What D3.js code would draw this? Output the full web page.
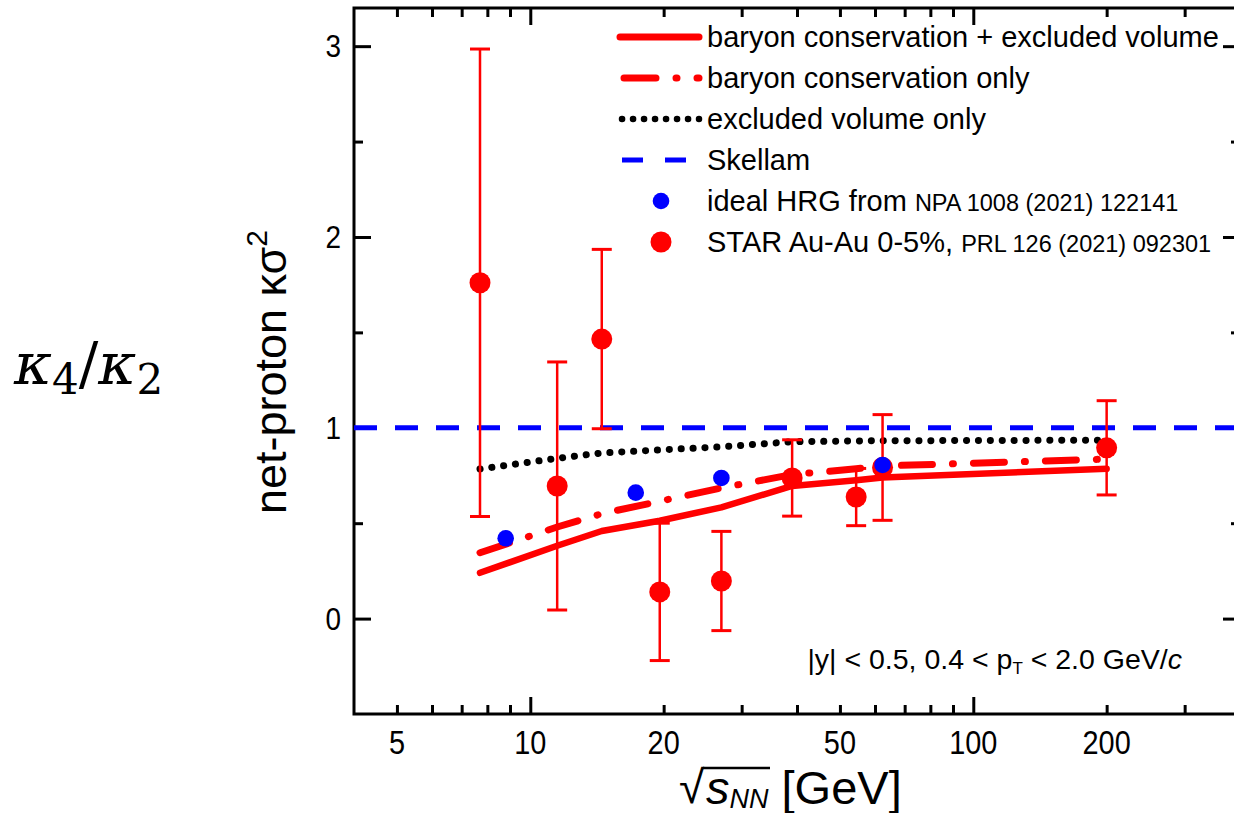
<!DOCTYPE html>
<html>
<head>
<meta charset="utf-8">
<script src="https://cdn.jsdelivr.net/npm/d3@7"></script>
<style>
  body { margin: 0; background: #fff; }
  svg { display: block; }
  text { font-family: "Liberation Sans", Arial, sans-serif; }
</style>
</head>
<body>
<svg width="1234" height="813"></svg>
<script>
// data
const starEnergy = [7.7, 11.5, 14.5, 19.6, 27, 39, 54.4, 62.4, 200];
const starValue  = [1.76, 0.695, 1.465, 0.14, 0.197, 0.737, 0.637, 0.792, 0.895];
const starError  = [1.225, 0.65, 0.47, 0.36, 0.26, 0.20, 0.15, 0.277, 0.247];

const hrgEnergy = [8.8, 17.3, 27, 62.4];
const hrgValue  = [0.421, 0.66, 0.737, 0.805];

const modelEnergy = [7.7, 11.5, 14.5, 19.6, 27, 39, 54.4, 62.4, 200];
const bcEv   = [0.24, 0.382, 0.459, 0.513, 0.583, 0.695, 0.725, 0.74, 0.785];
const bcOnly = [0.345, 0.48, 0.55, 0.615, 0.685, 0.755, 0.785, 0.80, 0.836];
const evOnly = [0.784, 0.84, 0.868, 0.884, 0.90, 0.927, 0.931, 0.932, 0.935];
const skellam = 1;

const xMajorTicks = [10, 100];
const xMinorTicks = [5, 6, 7, 8, 9, 20, 30, 40, 50, 60, 70, 80, 90, 200, 300];
const xTickLabels = [5, 10, 20, 50, 100, 200];
const yMajorTicks = [0, 1, 2, 3];
const yMinorTicks = [0.5, 1.5, 2.5];

const legendLabels = [
  'baryon conservation + excluded volume',
  'baryon conservation only',
  'excluded volume only',
  'Skellam',
  'ideal HRG from ',
  'STAR Au-Au 0-5%, '
];
const legendRefs = ['', '', '', '', 'NPA 1008 (2021) 122141', 'PRL 126 (2021) 092301'];

// layout
const svg = d3.select('svg');
const plot = { left: 354, right: 1240, top: 8, bottom: 714 };

const xScale = d3.scaleLog().domain([4, 400]).range([plot.left, plot.right]);
const yScale = d3.scaleLinear().domain([-0.5, 3.2]).range([plot.bottom, plot.top]);

const red = '#ff0000';
const blue = '#0000ff';

svg.append('clipPath').attr('id', 'clip')
  .append('rect')
  .attr('x', plot.left).attr('y', plot.top)
  .attr('width', plot.right - plot.left).attr('height', plot.bottom - plot.top);

// axes (ticks point inward, mirrored on top and right)
const tickStyle = g => {
  g.select('.domain').remove();
  g.selectAll('.tick line').attr('stroke', '#000').attr('stroke-width', 3);
};

const addAxis = (axis, transform, values, size) => {
  svg.append('g')
    .attr('transform', transform)
    .call(axis.tickValues(values).tickSize(-size).tickFormat(''))
    .call(tickStyle);
};

addAxis(d3.axisBottom(xScale), `translate(0,${plot.bottom})`, xMajorTicks, 17);
addAxis(d3.axisBottom(xScale), `translate(0,${plot.bottom})`, xMinorTicks, 9);
addAxis(d3.axisTop(xScale), `translate(0,${plot.top})`, xMajorTicks, 17);
addAxis(d3.axisTop(xScale), `translate(0,${plot.top})`, xMinorTicks, 9);
addAxis(d3.axisLeft(yScale), `translate(${plot.left},0)`, yMajorTicks, 17);
addAxis(d3.axisLeft(yScale), `translate(${plot.left},0)`, yMinorTicks, 9);
addAxis(d3.axisRight(yScale), `translate(${plot.right},0)`, yMajorTicks, 17);
addAxis(d3.axisRight(yScale), `translate(${plot.right},0)`, yMinorTicks, 9);

// tick labels (narrow look of the original)
svg.append('g').selectAll('text')
  .data(xTickLabels)
  .join('text')
  .attr('transform', d => `translate(${xScale(d)},754) scale(0.85,1)`)
  .attr('text-anchor', 'middle')
  .attr('font-size', 34)
  .text(d => d);

svg.append('g').selectAll('text')
  .data(yMajorTicks)
  .join('text')
  .attr('transform', d => `translate(341,${yScale(d)}) scale(0.9,1)`)
  .attr('dy', '0.36em')
  .attr('text-anchor', 'end')
  .attr('font-size', 31)
  .text(d => d);

// frame
svg.append('rect')
  .attr('x', plot.left).attr('y', plot.top)
  .attr('width', plot.right - plot.left).attr('height', plot.bottom - plot.top)
  .attr('fill', 'none').attr('stroke', '#000').attr('stroke-width', 3);

const g = svg.append('g').attr('clip-path', 'url(#clip)');

// Skellam baseline
g.append('line')
  .attr('x1', plot.left).attr('x2', plot.right)
  .attr('y1', yScale(skellam)).attr('y2', yScale(skellam))
  .attr('stroke', blue).attr('stroke-width', 5)
  .attr('stroke-dasharray', '23 18');

const line = d3.line().x(d => xScale(d[0])).y(d => yScale(d[1]));

g.append('path')
  .datum(d3.zip(modelEnergy, evOnly))
  .attr('d', line)
  .attr('fill', 'none').attr('stroke', '#000').attr('stroke-width', 7)
  .attr('stroke-linecap', 'round').attr('stroke-dasharray', '0.1 11.8');

g.append('path')
  .datum(d3.zip(modelEnergy, bcOnly))
  .attr('d', line)
  .attr('fill', 'none').attr('stroke', red).attr('stroke-width', 7)
  .attr('stroke-linecap', 'round').attr('stroke-dasharray', '31 20 1 20');

g.append('path')
  .datum(d3.zip(modelEnergy, bcEv))
  .attr('d', line)
  .attr('fill', 'none').attr('stroke', red).attr('stroke-width', 6.5)
  .attr('stroke-linejoin', 'round').attr('stroke-linecap', 'round');

// STAR data with error bars
const star = starEnergy.map((e, i) => ({ e, v: starValue[i], err: starError[i] }));
const bars = g.append('g').selectAll('g').data(star).join('g')
  .attr('stroke', red).attr('stroke-width', 2.5);
bars.append('line')
  .attr('x1', d => xScale(d.e)).attr('x2', d => xScale(d.e))
  .attr('y1', d => yScale(d.v + d.err)).attr('y2', d => yScale(d.v - d.err));
bars.append('line')
  .attr('x1', d => xScale(d.e) - 10).attr('x2', d => xScale(d.e) + 10)
  .attr('y1', d => yScale(d.v + d.err)).attr('y2', d => yScale(d.v + d.err))
  .attr('stroke-width', 3);
bars.append('line')
  .attr('x1', d => xScale(d.e) - 10).attr('x2', d => xScale(d.e) + 10)
  .attr('y1', d => yScale(d.v - d.err)).attr('y2', d => yScale(d.v - d.err))
  .attr('stroke-width', 3);

g.append('g').selectAll('circle').data(star).join('circle')
  .attr('cx', d => xScale(d.e)).attr('cy', d => yScale(d.v))
  .attr('r', 10.5).attr('fill', red);

g.append('g').selectAll('circle').data(d3.zip(hrgEnergy, hrgValue)).join('circle')
  .attr('cx', d => xScale(d[0])).attr('cy', d => yScale(d[1]))
  .attr('r', 8.3).attr('fill', blue);

// legend
const legend = svg.append('g');
const rowY = i => 37 + i * 41;
const sample = legend.append('g');
sample.append('line').attr('x1', 620).attr('x2', 699).attr('y1', rowY(0)).attr('y2', rowY(0))
  .attr('stroke', red).attr('stroke-width', 7).attr('stroke-linecap', 'round');
sample.append('line').attr('x1', 624).attr('x2', 699).attr('y1', rowY(1)).attr('y2', rowY(1))
  .attr('stroke', red).attr('stroke-width', 7).attr('stroke-linecap', 'round')
  .attr('stroke-dasharray', '32 20 1 20');
sample.append('line').attr('x1', 622).attr('x2', 699).attr('y1', rowY(2)).attr('y2', rowY(2))
  .attr('stroke', '#000').attr('stroke-width', 6.5).attr('stroke-linecap', 'round')
  .attr('stroke-dasharray', '0.1 10.9');
sample.append('line').attr('x1', 622).attr('x2', 699).attr('y1', rowY(3)).attr('y2', rowY(3))
  .attr('stroke', blue).attr('stroke-width', 5)
  .attr('stroke-dasharray', '21 22');
sample.append('circle').attr('cx', 661).attr('cy', rowY(4)).attr('r', 8.3).attr('fill', blue);
sample.append('circle').attr('cx', 661).attr('cy', rowY(5)).attr('r', 10.5).attr('fill', red);

legend.selectAll('text.lab')
  .data(legendLabels)
  .join('text')
  .attr('class', 'lab')
  .attr('x', 707)
  .attr('y', (d, i) => rowY(i))
  .attr('dy', '0.36em')
  .attr('font-size', 29)
  .each(function (d, i) {
    const t = d3.select(this);
    t.append('tspan').text(d);
    if (legendRefs[i]) t.append('tspan').attr('font-size', 23.5).text(legendRefs[i]);
  });

// annotation
const note = svg.append('text')
  .attr('x', 1182).attr('y', 669)
  .attr('text-anchor', 'end')
  .attr('font-size', 28.5);
note.append('tspan').text('|y| < 0.5, 0.4 < p');
note.append('tspan').attr('font-size', 17).attr('dy', 5).text('T');
note.append('tspan').attr('dy', -5).text(' < 2.0 GeV/');
note.append('tspan').attr('font-style', 'italic').text('c');

// y axis title
const yTitle = svg.append('text')
  .attr('transform', 'translate(286,372) rotate(-90)')
  .attr('text-anchor', 'middle')
  .attr('font-size', 45);
yTitle.append('tspan').text('net-proton κσ');
yTitle.append('tspan').attr('font-size', 30).attr('dy', -19).text('2');

// x axis title
const xTitle = svg.append('g');
xTitle.append('text')
  .attr('x', 679).attr('y', 803)
  .attr('font-size', 46)
  .text('√');
const sText = xTitle.append('text')
  .attr('x', 706).attr('y', 804)
  .attr('font-size', 47);
sText.append('tspan').attr('font-style', 'italic').text('s');
sText.append('tspan').attr('font-style', 'italic').attr('font-size', 27).attr('dy', 4).text('NN');
sText.append('tspan').attr('dy', -4).text(' [GeV]');
xTitle.append('line')
  .attr('x1', 703).attr('x2', 770).attr('y1', 768).attr('y2', 768)
  .attr('stroke', '#000').attr('stroke-width', 2.5);

// side label kappa4/kappa2
const side = svg.append('text')
  .attr('x', 14).attr('y', 384)
  .style('font-family', '"DejaVu Serif", "Liberation Serif", serif')
  .attr('font-size', 58);
side.append('tspan').attr('font-style', 'italic').text('κ');
side.append('tspan').attr('font-size', 42).attr('dy', 10).text('4');
side.append('tspan').attr('dy', -10).text('/');
side.append('tspan').attr('font-style', 'italic').text('κ');
side.append('tspan').attr('font-size', 42).attr('dy', 10).text('2');
</script>
</body>
</html>
